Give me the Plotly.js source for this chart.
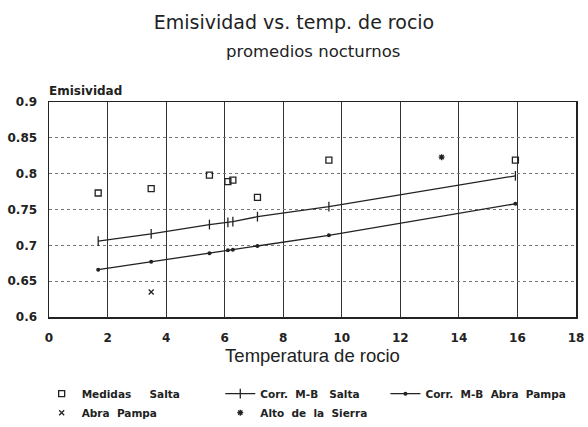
<!DOCTYPE html>
<html>
<head>
<meta charset="utf-8">
<script src="https://cdn.plot.ly/plotly-3.0.1.min.js"></script>
<style>html,body{margin:0;padding:0;background:#fff;}#chart{width:588px;height:427px;}</style>
</head>
<body>
<div id="chart"></div>
<script>
// Data
const tempSalta = [1.68, 3.49, 5.48, 6.11, 6.28, 7.12, 9.56, 15.93];
const medidasSalta = [0.773, 0.779, 0.798, 0.789, 0.791, 0.767, 0.819, 0.819];
const corrSalta = [0.706, 0.716, 0.729, 0.732, 0.733, 0.740, 0.754, 0.797];
const corrAbraPampa = [0.666, 0.677, 0.689, 0.693, 0.694, 0.699, 0.714, 0.758];
const tempAbraPampa = [3.49];
const medidasAbraPampa = [0.635];
const tempAltoSierra = [13.41];
const medidasAltoSierra = [0.823];
const xTicks = [0, 2, 4, 6, 8, 10, 12, 14, 16, 18];
const yTicks = [0.6, 0.65, 0.7, 0.75, 0.8, 0.85, 0.9];
const yTickText = ['0.6','0.65','0.7','0.75','0.8','0.85','0.9'];
const nb = '\u00a0';
const seriesNames = [
  'Medidas' + nb.repeat(5) + 'Salta',
  'Abra' + nb.repeat(2) + 'Pampa',
  'Corr.' + nb.repeat(2) + 'M-B' + nb.repeat(3) + 'Salta',
  'Alto' + nb.repeat(2) + 'de' + nb.repeat(2) + 'la' + nb.repeat(2) + 'Sierra',
  'Corr.' + nb.repeat(2) + 'M-B' + nb.repeat(2) + 'Abra' + nb.repeat(2) + 'Pampa'
];

const fnt = 'Liberation Sans, Arial, sans-serif';
const wide = 'DejaVu Sans, Verdana, sans-serif';
const ink = '#222';

const traces = [
  {x: tempSalta, y: medidasSalta, name: seriesNames[0], mode: 'markers', type: 'scatter', legend: 'legend',
   marker: {symbol: 'square-open', size: 6, color: ink, line: {width: 1.3, color: ink}}},
  {x: tempAbraPampa, y: medidasAbraPampa, name: seriesNames[1], mode: 'markers', type: 'scatter', legend: 'legend',
   marker: {symbol: 'x-thin-open', size: 5, color: ink, line: {width: 1.3, color: ink}}},
  {x: tempSalta, y: corrSalta, name: seriesNames[2], mode: 'lines+markers', type: 'scatter', legend: 'legend2',
   line: {color: ink, width: 1.3}, marker: {symbol: 'line-ns-open', size: 7, color: ink, line: {width: 1.3, color: ink}}},
  {x: tempAltoSierra, y: medidasAltoSierra, name: seriesNames[3], mode: 'markers', type: 'scatter', legend: 'legend2',
   marker: {symbol: 'asterisk-open', size: 5, color: ink, line: {width: 1.3, color: ink}}},
  {x: tempSalta, y: corrAbraPampa, name: seriesNames[4], mode: 'lines+markers', type: 'scatter', legend: 'legend3',
   line: {color: ink, width: 1.3}, marker: {symbol: 'circle', size: 4, color: ink}}
];

const legFont = {size: 10.5, family: wide, color: ink, weight: 'bold'};
const legBase = {orientation: 'v', xanchor: 'left', yanchor: 'top', yref: 'container', y: 0.112, itemwidth: 30,
  font: legFont, tracegroupgap: 0, bgcolor: 'rgba(0,0,0,0)', traceorder: 'normal'};

const layout = {
  width: 588, height: 427,
  margin: {l: 49, r: 12, t: 102, b: 110},
  paper_bgcolor: '#fff', plot_bgcolor: '#fff',
  font: {family: fnt, color: ink},
  showlegend: true,
  title: {text: 'Emisividad vs. temp. de rocio',
          font: {size: 19, family: wide, color: ink}, x: 0.5, xanchor: 'center', y: 0.9485, yanchor: 'middle', yref: 'container'},
  xaxis: {
    range: [0, 18], tickvals: xTicks, ticktext: xTicks.map(String),
    showgrid: true, gridcolor: '#333', gridwidth: 1,
    showline: true, linecolor: ink, linewidth: 1.5, mirror: true,
    ticks: 'outside', ticklen: 9, tickcolor: 'rgba(0,0,0,0)', zeroline: false,
    tickfont: {size: 12, family: wide, color: ink, weight: 'bold'},
    title: {text: 'Temperatura de rocio', font: {size: 18.5, family: fnt, color: ink}, standoff: 5}
  },
  yaxis: {
    range: [0.6, 0.9], tickvals: yTicks, ticktext: yTickText,
    showgrid: true, gridcolor: '#777', gridwidth: 1, griddash: 'dot',
    showline: true, linecolor: ink, linewidth: 1.5, mirror: true,
    ticks: 'outside', ticklen: 8, tickcolor: 'rgba(0,0,0,0)', zeroline: false,
    tickfont: {size: 12, family: wide, color: ink, weight: 'bold'}
  },
  annotations: [
    {text: 'promedios nocturnos', xref: 'paper', yref: 'paper', x: 0.5, y: 1.237, xanchor: 'center', yanchor: 'middle',
     showarrow: false, font: {size: 16.5, family: wide, color: ink}},
    {text: '<b>Emisividad</b>', xref: 'paper', yref: 'paper', x: 0, y: 1, xanchor: 'left', yanchor: 'bottom',
     xshift: -2, yshift: 2, showarrow: false, font: {size: 12, family: wide, color: ink}}
  ],
  legend: Object.assign({}, legBase, {x: -0.0139}),
  legend2: Object.assign({}, legBase, {x: 0.325}),
  legend3: Object.assign({}, legBase, {x: 0.6384})
};

Plotly.newPlot('chart', traces, layout, {displayModeBar: false, staticPlot: true});
</script>
</body>
</html>
